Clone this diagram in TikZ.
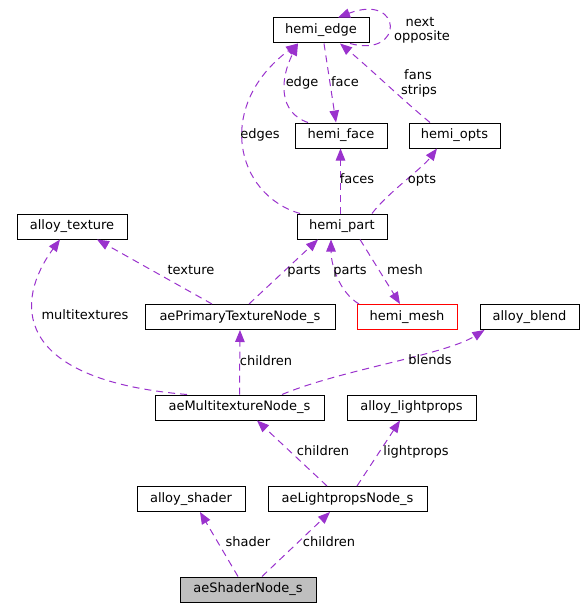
\documentclass[tikz,border=0pt]{standalone}
\usepackage{fontspec}
\setmainfont{DejaVu Sans}
\usetikzlibrary{arrows.meta}
\begin{document}
\begin{tikzpicture}[x=1pt, y=-1pt,
  cls/.style={draw=black, line width=1pt, minimum height=25pt, inner sep=0pt, text height=9.5pt, text depth=3pt, font=\fontsize{13}{15}\selectfont},
  use/.style={draw=col, line width=1pt, dash pattern=on 7pt off 5pt, -{Triangle[length=12pt, width=9.5pt]}},
  role/.style={inner sep=0pt, text height=9.5pt, text depth=3pt, font=\fontsize{13}{15}\selectfont}]
\definecolor{col}{HTML}{9A32CD}
\definecolor{fillcol}{HTML}{BFBFBF}
\useasboundingbox (0,0) rectangle (584,607);
\node[cls, minimum width=96pt] (hedge) at (321, 30.5) {hemi\_edge};
\node[cls, minimum width=92pt] (hface) at (341, 135.5) {hemi\_face};
\node[cls, minimum width=91pt] (hopts) at (454.5, 135.5) {hemi\_opts};
\node[cls, minimum width=90pt] (hpart) at (342, 226.5) {hemi\_part};
\node[cls, minimum width=110pt] (atex) at (72, 226.5) {alloy\_texture};
\node[cls, minimum width=190pt] (primtex) at (240, 317) {aePrimaryTextureNode\_s};
\node[cls, minimum width=100pt, draw=red] (hmesh) at (407, 317) {hemi\_mesh};
\node[cls, minimum width=99pt] (ablend) at (529.5, 317) {alloy\_blend};
\node[cls, minimum width=169pt] (multitex) at (239.5, 407.5) {aeMultitextureNode\_s};
\node[cls, minimum width=129pt] (alight) at (411.5, 407.5) {alloy\_lightprops};
\node[cls, minimum width=108pt] (ashader) at (191, 499) {alloy\_shader};
\node[cls, minimum width=159pt] (lightnode) at (347.5, 499) {aeLightpropsNode\_s};
\node[cls, minimum width=136pt, fill=fillcol] (shadernode) at (248, 589.5) {aeShaderNode\_s};
\draw[use] ([xshift=29pt]hedge.south) .. controls +(55,15) and +(65,-25) .. ([xshift=17pt]hedge.north);
\draw[use] ([xshift=-33pt]hface.north) .. controls +(-30,-10) and +(-18,35) .. ([xshift=-23pt]hedge.south);
\draw[use] ([xshift=3pt]hedge.south) -- ([xshift=-5pt]hface.north);
\draw[use] ([xshift=-24.5pt]hopts.north) .. controls +(-30,-25) and +(30,25) .. ([xshift=19pt]hedge.south);
\draw[use] ([xshift=-42pt]hpart.north) .. controls +(-65,-19) and +(-83,62) .. ([xshift=-23pt]hedge.south);
\draw[use] ([xshift=-1.5pt]hpart.north) -- ([xshift=-0.5pt]hface.south);
\draw[use] ([xshift=30pt]hpart.north) .. controls +(15,-20) and +(-15,20) .. ([xshift=-17.5pt]hopts.south);
\draw[use] ([xshift=-28pt]primtex.north) -- ([xshift=25pt]atex.south);
\draw[use] ([xshift=9pt]primtex.north) -- ([xshift=-24pt]hpart.south);
\draw[use] ([xshift=-48pt]hmesh.north) .. controls +(-20,-12) and +(0,25) .. ([xshift=-11pt]hpart.south);
\draw[use] ([xshift=18pt]hpart.south) -- ([xshift=-7pt]hmesh.north);
\draw[use] ([xshift=-52.5pt]multitex.north) .. controls +(-177,-15) and +(-45,61) .. ([xshift=-12pt]atex.south);
\draw[use] (multitex.north) -- (primtex.south);
\draw[use] ([xshift=42.5pt]multitex.north) .. controls +(60,-25) and +(-40,25) .. ([xshift=-45pt]ablend.south);
\draw[use] ([xshift=-20.5pt]lightnode.north) -- ([xshift=17.5pt]multitex.south);
\draw[use] ([xshift=9.5pt]lightnode.north) -- ([xshift=-11.5pt]alight.south);
\draw[use] ([xshift=-10pt]shadernode.north) -- ([xshift=9pt]ashader.south);
\draw[use] ([xshift=14pt]shadernode.north) -- ([xshift=-17.5pt]lightnode.south);
\node[role] (lnext) at (420, 23) {next};
\node[role] (lopp) at (422, 37) {opposite};
\node[role] (ledge) at (302, 83) {edge};
\node[role] (lface) at (345, 83) {face};
\node[role] (lfans) at (418, 76) {fans};
\node[role] (lstrips) at (419, 91) {strips};
\node[role] (ledges) at (260, 135) {edges};
\node[role] (lfaces) at (357, 180) {faces};
\node[role] (lopts) at (422, 180) {opts};
\node[role] (ltex) at (191, 271) {texture};
\node[role] (lpartsa) at (304, 271) {parts};
\node[role] (lpartsb) at (350, 271) {parts};
\node[role] (lmesh) at (405, 271) {mesh};
\node[role] (lmulti) at (85, 316) {multitextures};
\node[role] (lchilda) at (266, 362) {children};
\node[role] (lblends) at (430, 361) {blends};
\node[role] (lchildb) at (323, 452) {children};
\node[role] (llight) at (416, 452) {lightprops};
\node[role] (lshader) at (248, 543) {shader};
\node[role] (lchildc) at (329, 543) {children};
\end{tikzpicture}
\end{document}
